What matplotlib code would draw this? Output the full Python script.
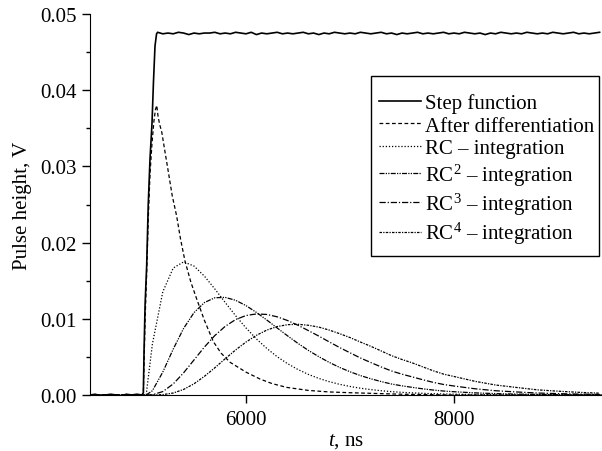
import matplotlib
matplotlib.use("Agg")
import matplotlib.pyplot as plt
from matplotlib.patches import Rectangle

plt.rcParams["font.family"] = ["Liberation Serif", "DejaVu Serif"]
plt.rcParams["mathtext.fontset"] = "custom"
plt.rcParams["mathtext.rm"] = "Liberation Serif"
plt.rcParams["mathtext.it"] = "Liberation Serif:italic"

# step function (measured)
t_base = [4500, 4550, 4600, 4650, 4700, 4750, 4800, 4850, 4900, 4950, 5000]
v_base = [0.0, 0.0001, -0.0001, 0.0, 0.0001, 0.0, -0.0001, 0.0001, 0.0, 0.0001, 0.0]
t_rise = [5013, 5020, 5030, 5045, 5060, 5077, 5096, 5110, 5125, 5140]
v_rise = [0.0003, 0.006, 0.012, 0.017, 0.025, 0.031, 0.0356, 0.041, 0.0458, 0.0474]
t_top = list(range(5150, 9401, 50))
v_top = [0.0476, 0.0474, 0.0475, 0.0474, 0.0476, 0.0475, 0.0473, 0.0475, 0.0474, 0.0475,
         0.0475, 0.0476, 0.0474, 0.0475, 0.0474, 0.0476, 0.0475, 0.0474, 0.0476, 0.0473,
         0.0475, 0.0474, 0.0475, 0.0476, 0.0474, 0.0475, 0.0474, 0.0475, 0.0476, 0.0474,
         0.0475, 0.0473, 0.0475, 0.0474, 0.0476, 0.0475, 0.0474, 0.0475, 0.0474, 0.0476,
         0.0475, 0.0474, 0.0475, 0.0476, 0.0474, 0.0475, 0.0473, 0.0475, 0.0474, 0.0475,
         0.0476, 0.0474, 0.0475, 0.0474, 0.0475, 0.0476, 0.0474, 0.0475, 0.0474, 0.0476,
         0.0475, 0.0474, 0.0475, 0.0473, 0.0475, 0.0474, 0.0476, 0.0475, 0.0474, 0.0475,
         0.0474, 0.0476, 0.0475, 0.0474, 0.0475, 0.0474, 0.0476, 0.0475, 0.0474, 0.0475,
         0.0476, 0.0474, 0.0475, 0.0474, 0.0475, 0.0476]

# after differentiation
t_diff = [4500, 5000, 5013, 5030, 5045, 5060, 5077, 5096, 5115, 5130,
          5142, 5155, 5170, 5190, 5220, 5253, 5290, 5333, 5370, 5413,
          5470, 5526, 5600, 5686, 5760, 5846, 6000, 6134, 6250, 6391,
          6600, 6800, 7000, 7500, 8000, 8500, 9000, 9423]
v_diff = [0, 0, 0.0003, 0.010, 0.016, 0.023, 0.029, 0.033, 0.036, 0.0375,
          0.038, 0.0365, 0.0355, 0.0345, 0.032, 0.0293, 0.0262, 0.0235, 0.0205, 0.0176,
          0.0148, 0.0126, 0.0098, 0.0070, 0.0055, 0.0043, 0.0030, 0.0021, 0.0015, 0.0010,
          0.0006, 0.0004, 0.0003, 0.0001, 0, 0, 0, 0]

# RC^n integration
t_rc = [4500, 5040, 5100, 5200, 5300, 5400, 5500, 5600, 5700, 5800, 5900, 6000,
        6100, 6200, 6300, 6400, 6500, 6600, 6700, 6800, 6900, 7000,
        7100, 7200, 7300, 7400, 7500, 7600, 7700, 7800, 7900, 8000,
        8200, 8400, 8600, 8800, 9000, 9200, 9400]
v_rc1 = [0, 0, 0.00670, 0.01354, 0.01666, 0.01747, 0.01692, 0.01560, 0.01392, 0.01214, 0.01041, 0.00880,
         0.00736, 0.00611, 0.00502, 0.00411, 0.00334, 0.00270, 0.00218, 0.00175, 0.00140, 0.00112,
         0.00089, 0.00071, 0.00056, 0.00044, 0.00035, 0.00028, 0.00022, 0.00017, 0.00013, 0.00011,
         0.00006, 0.00004, 0.00002, 0.00001, 0.0, 0.0, 0.0]
v_rc2 = [0, 0, 0.00056, 0.00301, 0.00602, 0.00874, 0.01081, 0.01213, 0.01276, 0.01281, 0.01243, 0.01173,
         0.01084, 0.00984, 0.00879, 0.00776, 0.00677, 0.00585, 0.00503, 0.00428, 0.00362, 0.00305,
         0.00255, 0.00213, 0.00176, 0.00144, 0.00120, 0.00100, 0.00081, 0.00065, 0.00052, 0.00043,
         0.00028, 0.00018, 0.00012, 0.00008, 0.00005, 0.00003, 0.00002]
v_rc3 = [0, 0, 0.00003, 0.00045, 0.00145, 0.00291, 0.00460, 0.00629, 0.00780, 0.00901, 0.00990, 0.01043,
         0.01064, 0.01057, 0.01026, 0.00977, 0.00915, 0.00845, 0.00773, 0.00697, 0.00623, 0.00554,
         0.00486, 0.00426, 0.00368, 0.00315, 0.00273, 0.00237, 0.00200, 0.00166, 0.00138, 0.00118,
         0.00082, 0.00056, 0.00040, 0.00026, 0.00018, 0.00012, 0.00008]
v_rc4 = [0, 0, 0.0, 0.00005, 0.00026, 0.00073, 0.00147, 0.00245, 0.00357, 0.00476, 0.00591, 0.00695,
         0.00783, 0.00852, 0.00898, 0.00923, 0.00928, 0.00915, 0.00891, 0.00852, 0.00805, 0.00754,
         0.00695, 0.00639, 0.00578, 0.00516, 0.00466, 0.00421, 0.00369, 0.00318, 0.00274, 0.00243,
         0.00180, 0.00131, 0.00099, 0.00068, 0.00050, 0.00035, 0.00024]

labels = ["Step function", "After differentiation", "RC – integration",
          "RC$^2$ – integration", "RC$^3$ – integration", "RC$^4$ – integration"]

fig = plt.figure(figsize=(6.02, 4.52), dpi=100)
ax = fig.add_axes([90 / 602, 1 - 396 / 452, 1 - 90 / 602, 381 / 452])

lw = 0.9
ax.plot(t_base + t_rise + t_top, v_base + v_rise + v_top, color="black", lw=1.2, label=labels[0])
ax.plot(t_diff, v_diff, color="black", lw=lw, ls=(0, (3, 2)), label=labels[1])
ax.plot(t_rc, v_rc1, color="black", lw=lw, ls=(0, (1, 1.5)), label=labels[2])
ax.plot(t_rc, v_rc2, color="black", lw=lw, ls=(0, (4, 1, 1, 1, 1, 1)), label=labels[3])
ax.plot(t_rc, v_rc3, color="black", lw=lw, ls=(0, (5, 1.5, 1, 1.5)), label=labels[4])
ax.plot(t_rc, v_rc4, color="black", lw=lw, ls=(0, (2, 1, 1, 1)), label=labels[5])

ax.set_xlim(4500, 9423)
ax.set_ylim(0, 0.05)
ax.set_xticks([6000, 8000])
ax.set_yticks([0, 0.01, 0.02, 0.03, 0.04, 0.05])
ax.set_yticks([0.005, 0.015, 0.025, 0.035, 0.045], minor=True)
ax.set_yticklabels(["0.00", "0.01", "0.02", "0.03", "0.04", "0.05"])
ax.tick_params(direction="out", labelsize=15, length=6, width=1)
ax.tick_params(axis="x", pad=5)
ax.tick_params(which="minor", direction="out", length=3, width=1)
for s in ["top", "right"]:
    ax.spines[s].set_visible(False)
ax.set_xlabel("$t$, ns", fontsize=15)
ax.xaxis.set_label_coords(0.5, -0.094)
ax.set_ylabel("Pulse height, V", fontsize=15, labelpad=6)

# legend frame drawn separately so the text can run close to its right edge
frame = Rectangle((371 / 602, 1 - 257 / 452), 228 / 602, 180 / 452,
                  transform=fig.transFigure, facecolor="white",
                  edgecolor="black", lw=1, zorder=4, clip_on=False)
ax.add_artist(frame)
leg = ax.legend(loc="upper left", bbox_to_anchor=(379 / 602, 1 - 94 / 452),
                bbox_transform=fig.transFigure, fontsize=15, frameon=False,
                handlelength=2.0, handletextpad=0.2, labelspacing=0.15,
                borderpad=0, borderaxespad=0)
leg.set_zorder(5)

fig.savefig("out.png", dpi=100)
